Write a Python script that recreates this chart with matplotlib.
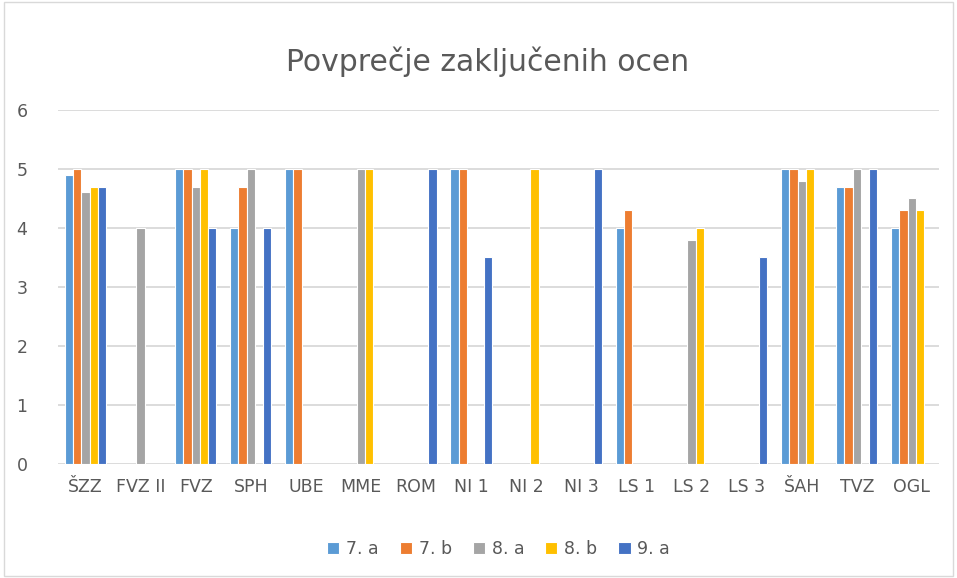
import matplotlib.pyplot as plt
import matplotlib.patches as mpatches
import numpy as np

nan = np.nan
categories = ["ŠZZ", "FVZ II", "FVZ", "SPH", "UBE", "MME", "ROM", "NI 1", "NI 2",
              "NI 3", "LS 1", "LS 2", "LS 3", "ŠAH", "TVZ", "OGL"]
series_names = ["7. a", "7. b", "8. a", "8. b", "9. a"]
s7a = [4.9, nan, 5, 4, 5, nan, nan, 5, nan, nan, 4, nan, nan, 5, 4.7, 4]
s7b = [5, nan, 5, 4.7, 5, nan, nan, 5, nan, nan, 4.3, nan, nan, 5, 4.7, 4.3]
s8a = [4.6, 4, 4.7, 5, nan, 5, nan, nan, nan, nan, nan, 3.8, nan, 4.8, 5, 4.5]
s8b = [4.7, nan, 5, nan, nan, 5, nan, nan, 5, nan, nan, 4, nan, 5, nan, 4.3]
s9a = [4.7, nan, 4, 4, nan, nan, 5, 3.5, nan, 5, nan, nan, 3.5, nan, 5, nan]
colors = ["#5B9BD5", "#ED7D31", "#A5A5A5", "#FFC000", "#4472C4"]

txt = "#595959"
fig = plt.figure(figsize=(9.57, 5.78), dpi=100)
ax = fig.add_axes([0.0606, 0.197, 0.921, 0.613])

x = np.arange(len(categories))
w = 0.15
for i, (vals, name) in enumerate(zip([s7a, s7b, s8a, s8b, s9a], series_names)):
    ax.bar(x + (i - 2) * w, vals, width=w, color=colors[i], edgecolor="white",
           linewidth=0.8, label=name, zorder=3)

ax.set_xlim(-0.5, len(categories) - 0.5)
ax.set_ylim(0, 6)
ax.set_yticks(range(7))
ax.set_xticks(x)
ax.set_xticklabels(categories)
ax.yaxis.grid(True, color="#D9D9D9", linewidth=1.3, zorder=0)
for s in ax.spines.values():
    s.set_visible(False)
ax.tick_params(length=0, labelsize=12.5, colors=txt)
ax.tick_params(axis="x", pad=10)
ax.tick_params(axis="y", pad=22)

ax.set_title("Povprečje zaključenih ocen", fontsize=21.5, color=txt, pad=28, x=0.487)

ax.legend(loc="upper center", bbox_to_anchor=(0.5, -0.17), ncol=5, frameon=False,
          fontsize=12.5, labelcolor=txt, handlelength=0.7, handleheight=0.7,
          handletextpad=0.4, columnspacing=1.2)

fig.patches.append(mpatches.Rectangle((0.004, 0.004), 0.992, 0.992, transform=fig.transFigure,
                                      fill=False, edgecolor="#D9D9D9", linewidth=1))

fig.savefig("out.png", dpi=100)
